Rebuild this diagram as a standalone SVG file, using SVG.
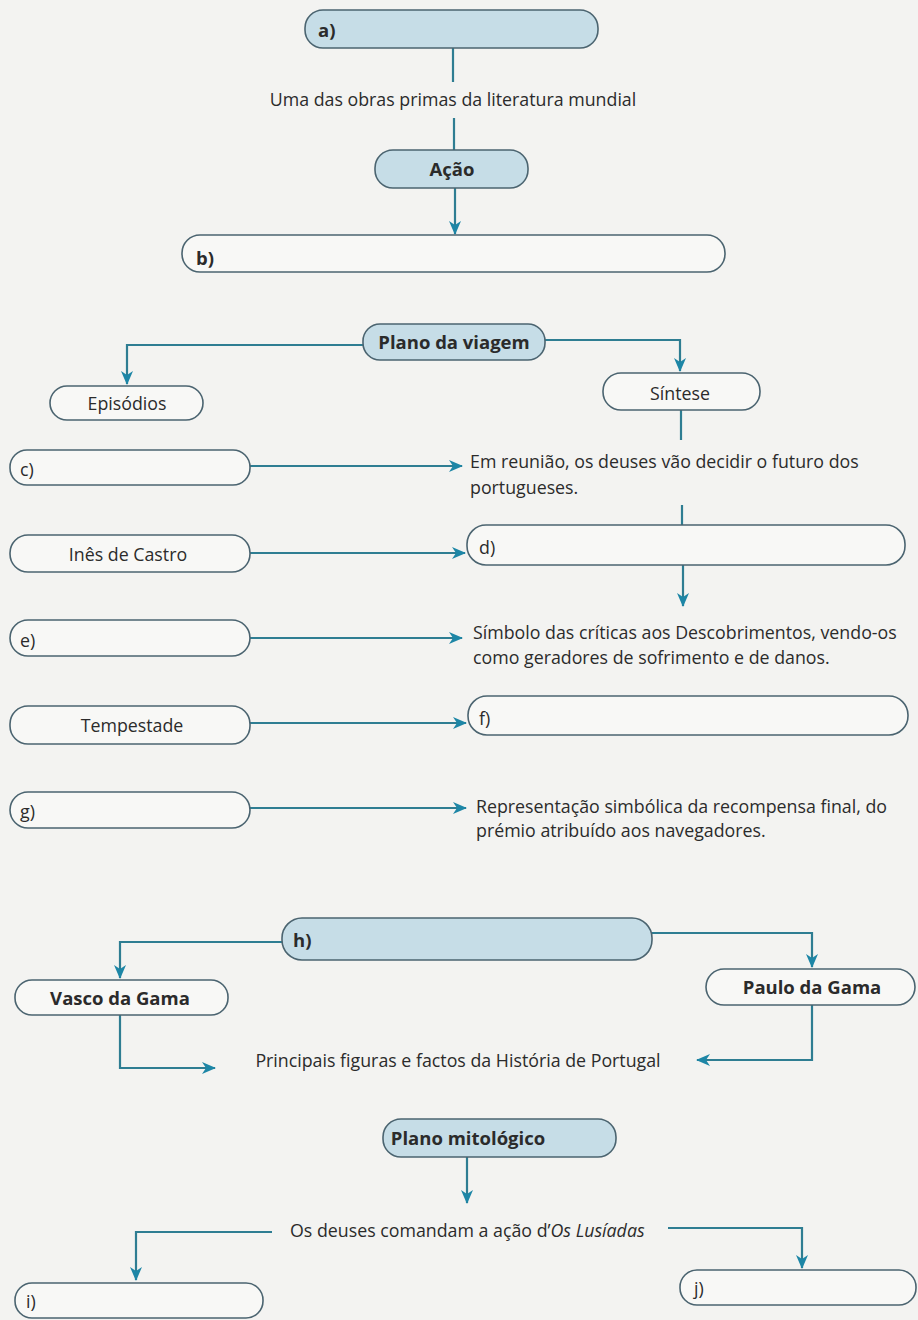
<svg xmlns="http://www.w3.org/2000/svg" width="918" height="1320" viewBox="0 0 918 1320">
<style>
.bg{fill:#f3f3f1}
.box{fill:#f8f8f6;stroke:#4b6470;stroke-width:1.6}
.blue{fill:#c6dde7;stroke:#4b6470;stroke-width:1.6}
.lbl{font-family:"Open Sans","Liberation Sans",sans-serif;font-size:17.8px;fill:#2b2b2b}
.b{font-weight:bold;font-size:18.5px}
.m{text-anchor:middle}
.con{fill:none;stroke:#2e7d92;stroke-width:2.2}
</style>
<defs>
<marker id="arr" viewBox="0 0 14 12" refX="13" refY="6" markerWidth="14" markerHeight="12" orient="auto" markerUnits="userSpaceOnUse">
<path d="M0,0 L14,6 L0,12 L4,6 z" fill="#1d86a6"/>
</marker>
</defs>
<rect class="bg" x="0" y="0" width="918" height="1320"/>

<g id="connectors">
<path class="con" d="M453,48 V82"/>
<path class="con" d="M454,118 V150"/>
<path class="con" d="M455,188 V234" marker-end="url(#arr)"/>
<path class="con" d="M363,345 H127 V384" marker-end="url(#arr)"/>
<path class="con" d="M545,340 H680 V371" marker-end="url(#arr)"/>
<path class="con" d="M681,410 V440"/>
<path class="con" d="M682,505 V525"/>
<path class="con" d="M683,565 V606" marker-end="url(#arr)"/>
<path class="con" d="M250,466 H462" marker-end="url(#arr)"/>
<path class="con" d="M250,553 H465" marker-end="url(#arr)"/>
<path class="con" d="M250,638 H462" marker-end="url(#arr)"/>
<path class="con" d="M250,723 H466" marker-end="url(#arr)"/>
<path class="con" d="M250,808 H466" marker-end="url(#arr)"/>
<path class="con" d="M282,942 H120 V978" marker-end="url(#arr)"/>
<path class="con" d="M652,933 H812 V967" marker-end="url(#arr)"/>
<path class="con" d="M120,1015 V1068 H215" marker-end="url(#arr)"/>
<path class="con" d="M812,1005 V1060 H697" marker-end="url(#arr)"/>
<path class="con" d="M467,1157 V1203" marker-end="url(#arr)"/>
<path class="con" d="M272,1232 H136 V1280" marker-end="url(#arr)"/>
<path class="con" d="M668,1228 H802 V1268" marker-end="url(#arr)"/>
</g>

<g id="node-a"><rect class="blue" x="305" y="10" width="293" height="38" rx="18"/><text class="lbl b" x="318" y="37">a)</text></g>
<g id="node-obras"><text class="lbl m" x="453" y="106">Uma das obras primas da literatura mundial</text></g>
<g id="node-acao"><rect class="blue" x="375" y="150" width="153" height="38" rx="18"/><text class="lbl b m" x="452" y="176">Ação</text></g>
<g id="node-b"><rect class="box" x="182" y="235" width="543" height="37" rx="18"/><text class="lbl b" x="196" y="265">b)</text></g>
<g id="node-plano-viagem"><rect class="blue" x="363" y="324" width="182" height="36" rx="17"/><text class="lbl b m" x="454" y="349">Plano da viagem</text></g>
<g id="node-episodios"><rect class="box" x="50" y="386" width="153" height="34" rx="17"/><text class="lbl m" x="127" y="410">Episódios</text></g>
<g id="node-sintese"><rect class="box" x="603" y="373" width="157" height="37" rx="18"/><text class="lbl m" x="680" y="400">Síntese</text></g>
<g id="node-reuniao"><text class="lbl" x="470" y="468">Em reunião, os deuses vão decidir o futuro dos</text><text class="lbl" x="470" y="494">portugueses.</text></g>
<g id="node-c"><rect class="box" x="10" y="450" width="240" height="35" rx="17"/><text class="lbl" x="20" y="476">c)</text></g>
<g id="node-ines"><rect class="box" x="10" y="535" width="240" height="37" rx="18"/><text class="lbl m" x="128" y="561">Inês de Castro</text></g>
<g id="node-d"><rect class="box" x="467" y="525" width="438" height="40" rx="19"/><text class="lbl" x="479" y="554">d)</text></g>
<g id="node-e"><rect class="box" x="10" y="620" width="240" height="36" rx="18"/><text class="lbl" x="20" y="647">e)</text></g>
<g id="node-simbolo"><text class="lbl" x="473" y="639">Símbolo das críticas aos Descobrimentos, vendo-os</text><text class="lbl" x="473" y="664">como geradores de sofrimento e de danos.</text></g>
<g id="node-tempestade"><rect class="box" x="10" y="706" width="240" height="38" rx="18"/><text class="lbl m" x="132" y="732">Tempestade</text></g>
<g id="node-f"><rect class="box" x="468" y="696" width="440" height="39" rx="19"/><text class="lbl" x="479" y="725">f)</text></g>
<g id="node-g"><rect class="box" x="10" y="792" width="240" height="36" rx="18"/><text class="lbl" x="20" y="818">g)</text></g>
<g id="node-representacao"><text class="lbl" x="476" y="813">Representação simbólica da recompensa final, do</text><text class="lbl" x="476" y="837">prémio atribuído aos navegadores.</text></g>
<g id="node-h"><rect class="blue" x="282" y="918" width="370" height="42" rx="20"/><text class="lbl b" x="293" y="947">h)</text></g>
<g id="node-vasco"><rect class="box" x="15" y="980" width="213" height="35" rx="17"/><text class="lbl b m" x="120" y="1005">Vasco da Gama</text></g>
<g id="node-paulo"><rect class="box" x="706" y="969" width="209" height="36" rx="18"/><text class="lbl b m" x="812" y="994">Paulo da Gama</text></g>
<g id="node-principais"><text class="lbl m" x="458" y="1067">Principais figuras e factos da História de Portugal</text></g>
<g id="node-plano-mito"><rect class="blue" x="383" y="1119" width="233" height="38" rx="18"/><text class="lbl b m" x="468" y="1145">Plano mitológico</text></g>
<g id="node-deuses"><text class="lbl" x="290" y="1237">Os deuses comandam a ação d’<tspan font-style="italic">Os Lusíadas</tspan></text></g>
<g id="node-i"><rect class="box" x="15" y="1283" width="248" height="35" rx="17"/><text class="lbl" x="26" y="1308">i)</text></g>
<g id="node-j"><rect class="box" x="680" y="1270" width="236" height="35" rx="17"/><text class="lbl" x="694" y="1295">j)</text></g>
</svg>
